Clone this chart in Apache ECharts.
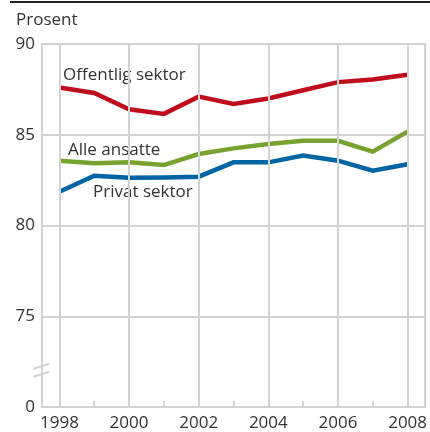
<!DOCTYPE html>
<html>
<head>
    <meta charset="UTF-8">
    <title>Prosent</title>
    <script src="https://cdn.jsdelivr.net/npm/echarts@6.0.0/dist/echarts.min.js"></script>
    <style>
        body { margin: 0; background: #ffffff; }
        #chart { width: 430px; height: 432px; }
    </style>
</head>
<body>
    <div id="chart"></div>
    <script>
        var years = ['1998', '1999', '2000', '2001', '2002', '2003', '2004', '2005', '2006', '2007', '2008'];
        var offentlig = [87.6, 87.3, 86.4, 86.15, 87.1, 86.7, 87.0, 87.45, 87.9, 88.05, 88.3];
        var alleAnsatte = [83.57, 83.43, 83.48, 83.33, 83.94, 84.25, 84.49, 84.67, 84.67, 84.07, 85.17];
        var privat = [81.86, 82.74, 82.63, 82.65, 82.69, 83.48, 83.48, 83.85, 83.57, 83.02, 83.37];
        // 70 on the axis stands for the broken-off 0
        var yTicks = { 70: '0', 75: '75', 80: '80', 85: '85', 90: '90' };
        var gridYears = ['1998', '2000', '2002', '2004', '2006', '2008'];
        var tickYears = ['1999', '2001', '2003', '2005', '2007'];

        var font = '"Open Sans", "Noto Sans", sans-serif';
        var grey = '#d3d3d3';
        var textCol = '#333333';

        var chart = echarts.init(document.getElementById('chart'), null, {renderer: 'canvas'});

        function line(name, data, color) {
            return {
                name: name,
                type: 'line',
                data: data,
                symbol: 'none',
                z: 3,
                lineStyle: { color: color, width: 4.5, join: 'miter', cap: 'butt' },
                animation: false
            };
        }

        // vertical grid lines on even years, short ticks on odd years
        var vLines = [];
        gridYears.forEach(function (y) { vLines.push({ xAxis: y }); });
        tickYears.forEach(function (y) {
            vLines.push([{ coord: [y, 70] }, { coord: [y, 70.33] }]);
        });

        chart.setOption({
            animation: false,
            grid: {
                left: 42, right: 4, top: 44, bottom: 25,
                show: true, borderColor: grey, borderWidth: 2
            },
            xAxis: {
                type: 'category',
                data: years,
                boundaryGap: true,
                axisLine: { lineStyle: { color: grey, width: 2 } },
                axisTick: { show: false },
                axisLabel: { interval: 1, color: textCol, fontSize: 17, fontFamily: font, margin: 8 },
                splitLine: { show: false }
            },
            yAxis: {
                type: 'value',
                min: 70, max: 90, interval: 5,
                axisLine: { show: true, lineStyle: { color: grey, width: 2 } },
                axisTick: { show: false },
                axisLabel: {
                    color: textCol, fontSize: 17, fontFamily: font, margin: 7,
                    formatter: function (v) { return yTicks[v]; }
                },
                splitLine: { show: true, lineStyle: { color: grey, width: 2 } }
            },
            series: [
                {
                    type: 'line', data: [], z: 1, silent: true, animation: false,
                    markLine: {
                        silent: true, animation: false, symbol: ['none', 'none'],
                        label: { show: false },
                        lineStyle: { color: grey, width: 2, type: 'solid' },
                        data: vLines
                    }
                },
                line('Offentlig sektor', offentlig, '#c00d1e'),
                line('Alle ansatte', alleAnsatte, '#78a22f'),
                line('Privat sektor', privat, '#0065a4')
            ]
        });

        // axis break marks and text labels
        var x0 = chart.convertToPixel({xAxisIndex: 0}, 0) - 18;
        var yb = chart.convertToPixel({yAxisIndex: 0}, 72);
        chart.setOption({
            graphic: [
                { type: 'rect', shape: { x: 10, y: 1, width: 420, height: 2 }, style: { fill: '#222222' } },
                { type: 'line', shape: { x1: x0 - 8, y1: yb - 2, x2: x0 + 8, y2: yb - 7 },
                  style: { stroke: grey, lineWidth: 2 } },
                { type: 'line', shape: { x1: x0 - 8, y1: yb + 6, x2: x0 + 8, y2: yb + 1 },
                  style: { stroke: grey, lineWidth: 2 } },
                { type: 'text', x: 16, y: 20,
                  style: { text: 'Prosent', fill: textCol, font: '17px ' + font, verticalAlign: 'middle' } },
                { type: 'text', x: 63, y: 75,
                  style: { text: 'Offentlig sektor', fill: textCol, font: '17px ' + font, verticalAlign: 'middle' } },
                { type: 'text', x: 68, y: 150,
                  style: { text: 'Alle ansatte', fill: textCol, font: '17px ' + font, verticalAlign: 'middle' } },
                { type: 'text', x: 93, y: 192,
                  style: { text: 'Privat sektor', fill: textCol, font: '17px ' + font, verticalAlign: 'middle' } }
            ]
        });
    </script>
</body>
</html>
